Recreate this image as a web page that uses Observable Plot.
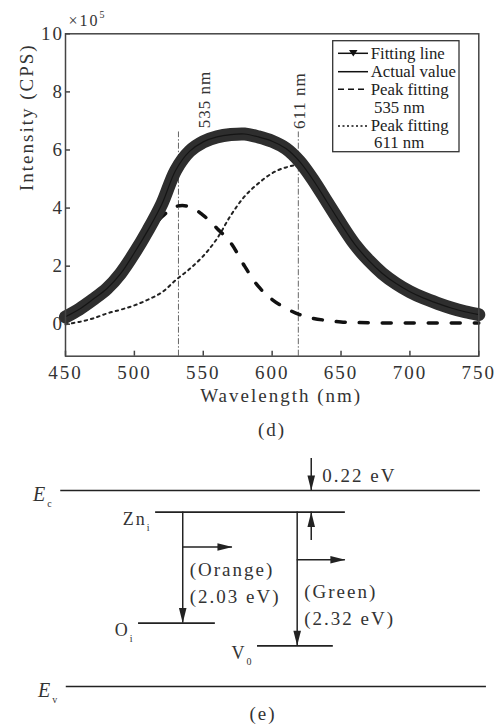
<!DOCTYPE html>
<html>
<head>
<meta charset="utf-8">
<script src="https://cdn.jsdelivr.net/npm/d3@7"></script>
<script src="https://cdn.jsdelivr.net/npm/@observablehq/plot@0.6"></script>
<style>
  body { margin: 0; background: #fff; }
  #wrap { position: relative; width: 502px; height: 727px; overflow: hidden; font-family: "Liberation Serif", "Times New Roman", serif; color: #333; background: #fff; }
  #top, #bottom, #legend { position: absolute; left: 0; }
  #top { top: 0; }
  #legend { top: 0; pointer-events: none; }
  #bottom { top: 440px; }
  .cap { position: absolute; font-size: 19px; letter-spacing: 2px; transform: translate(-50%, -50%); white-space: nowrap; }
</style>
</head>
<body>
<div id="wrap">
  <div id="top"></div>
  <svg id="legend" width="502" height="440"></svg>
  <div id="bottom"></div>
  <div class="cap" style="left:272px; top:430px;">(d)</div>
  <div class="cap" style="left:263px; top:714px;">(e)</div>
</div>
<script>
// ---------- (d) spectrum data ----------
const wavelength = [450,460,470,480,490,500,510,520,530,540,550,560,570,580,590,600,610,620,630,640,650,660,670,680,690,700,710,720,730,740,750];
const fittingLine = [0.25,0.52,0.85,1.22,1.75,2.45,3.25,4.15,5.3,5.95,6.28,6.45,6.53,6.55,6.45,6.3,6.05,5.6,4.95,4.2,3.45,2.75,2.2,1.75,1.4,1.12,0.9,0.72,0.56,0.43,0.33];
const actualValue = [0.26,0.52,0.86,1.22,1.74,2.46,3.25,4.14,5.3,5.95,6.28,6.45,6.53,6.55,6.45,6.3,6.05,5.6,4.95,4.2,3.45,2.75,2.2,1.75,1.4,1.12,0.9,0.72,0.56,0.43,0.33];
const peak535 = [0.2,0.45,0.8,1.2,1.72,2.4,3.1,3.7,4.05,4.05,3.75,3.3,2.8,2.0,1.3,0.85,0.55,0.33,0.2,0.13,0.08,0.06,0.05,0.04,0.04,0.04,0.04,0.04,0.04,0.04,0.04];
const peak611 = [0.0,0.08,0.2,0.37,0.5,0.65,0.85,1.1,1.52,1.9,2.35,2.95,3.75,4.4,4.85,5.2,5.4,5.45,4.85,4.1,3.35,2.65,2.1,1.65,1.32,1.05,0.84,0.66,0.51,0.39,0.29];
const xTicks = [450,500,550,600,650,700,750];
const yTicks = [0,2,4,6,8,10];
const peakLines = [532, 619];
const peakLineTop = 6.62;
const peakLabels = ["535 nm", "611 nm"];
const legendLabels = ["Fitting line", "Actual value", "Peak fitting", "535 nm", "Peak fitting", "611 nm"];

// ---------- (e) energy diagram data ----------
const levelLabels = ["E_c", "E_v", "Zn_i", "O_i", "V_0"];
const levelEnergy = [3.37, 0, 3.0, 1.09, 0.70];
const levelStart = [12, 13.1, 30.9, 27.5, 51.2];
const levelEnd = [95.6, 96.8, 68.7, 42.8, 66.3];
const transitionX = [36.3, 59.1];
const transitionFrom = [3.0, 3.0];
const transitionTo = [1.09, 0.70];
const transitionLabels = ["(Orange)\n(2.03 eV)", "(Green)\n(2.32 eV)"];
const photonY = [2.4, 2.18];
const photonEnd = [46.2, 68.7];
const gapX = 61.9;
const gapArrowFrom = [3.92, 2.51];
const gapArrowTo = [3.37, 3.0];
const gapLabel = "0.22 eV";

const rows = wavelength.map((w, i) => ({w, fit: fittingLine[i], act: actualValue[i], p1: peak535[i], p2: peak611[i]}));

function scripts(svg) {
  d3.select(svg).selectAll("text").each(function () {
    if (this.querySelector("tspan")) return;
    const m = this.textContent.match(/^(.*?)([_^])(.+)$/);
    if (!m) return;
    this.textContent = m[1];
    const sp = document.createElementNS("http://www.w3.org/2000/svg", "tspan");
    sp.textContent = m[3];
    sp.setAttribute("font-size", m[2] === "_" ? 10 : 10);
    sp.setAttribute("font-style", "normal");
    sp.setAttribute("dy", m[2] === "_" ? 6 : -8);
    this.appendChild(sp);
  });
}

// ---------- top chart ----------
const topPlot = Plot.plot({
  width: 502, height: 440,
  marginLeft: 65, marginRight: 23.7, marginTop: 33.3, marginBottom: 84.3,
  x: {domain: [450, 750]},
  y: {domain: [-1.1, 10]},
  style: "font-family: 'Liberation Serif', 'Times New Roman', serif; font-size: 19px; letter-spacing: 2px; color: #333; background: transparent; overflow: visible;",
  marks: [
    Plot.ruleX(peakLines, {x: d => d, y1: -1.1, y2: peakLineTop, stroke: "#666", strokeWidth: 1, strokeDasharray: "6,2,1.5,2"}),
    Plot.line(rows, {x: "w", y: "p2", stroke: "#222", strokeWidth: 2, strokeDasharray: "2.5,4", curve: "catmull-rom"}),
    Plot.line(rows, {x: "w", y: "p1", stroke: "#111", strokeWidth: 3.5, strokeDasharray: "9,14", curve: "catmull-rom"}),
    Plot.line(rows, {x: "w", y: "fit", stroke: "#2e2e2e", strokeWidth: 13, curve: "catmull-rom"}),
    Plot.line(rows, {x: "w", y: "act", stroke: "#151515", strokeWidth: 1.2, curve: "catmull-rom"}),
    Plot.frame({stroke: "#444", strokeWidth: 1.5}),
    Plot.axisX({ticks: xTicks, tickSize: 0, tickPadding: 9, label: null, fill: "#333"}),
    Plot.axisX({ticks: xTicks, tickSize: 5, dy: -5, tickFormat: () => "", label: null, stroke: "#444", strokeWidth: 1.5}),
    Plot.axisY({ticks: yTicks, tickSize: 0, tickPadding: 1.5, label: null, fill: "#333"}),
    Plot.axisY({ticks: yTicks, tickSize: 5, dx: 5, tickFormat: () => "", label: null, stroke: "#444", strokeWidth: 1.5}),
    Plot.text(["Wavelength (nm)"], {frameAnchor: "bottom", lineAnchor: "middle", dy: 39.5, dx: 9, fill: "#333"}),
    Plot.text(["Intensity (CPS)"], {frameAnchor: "left", lineAnchor: "middle", rotate: -90, dx: -39, dy: -4, fill: "#333"}),
    Plot.text(["×10^5"], {frameAnchor: "top-left", textAnchor: "start", lineAnchor: "middle", dx: 3, dy: -13, fontSize: 16, fill: "#333"}),
    Plot.text([peakLabels[0]], {x: [peakLines[0]], y: [peakLineTop + 0.13], rotate: -90, textAnchor: "start", lineAnchor: "middle", dx: 26, fontSize: 17, fill: "#333"}),
    Plot.text([peakLabels[1]], {x: [peakLines[1]], y: [peakLineTop + 0.1], rotate: -90, textAnchor: "start", lineAnchor: "middle", dx: 1.5, fontSize: 17, fill: "#333"})
  ]
});
scripts(topPlot);
d3.select(topPlot).selectAll("text").filter(function () { return /^\d+ nm$/.test(this.textContent); }).style("letter-spacing", "1px");
document.getElementById("top").appendChild(topPlot);

// ---------- legend ----------
const lg = d3.select("#legend").style("font-family", "'Liberation Serif', 'Times New Roman', serif");
lg.append("rect").attr("x", 332.7).attr("y", 40.7).attr("width", 126.3).attr("height", 111)
  .attr("fill", "#fff").attr("stroke", "#333").attr("stroke-width", 1.3);
const sx1 = 338, sx2 = 368;
lg.append("line").attr("x1", sx1).attr("x2", sx2).attr("y1", 53.3).attr("y2", 53.3).attr("stroke", "#111").attr("stroke-width", 1.5);
lg.append("path").attr("d", "M349,50 L357.5,50 L353.3,56.5 Z").attr("fill", "#111");
lg.append("line").attr("x1", sx1).attr("x2", sx2).attr("y1", 71.7).attr("y2", 71.7).attr("stroke", "#111").attr("stroke-width", 1.5);
lg.append("line").attr("x1", sx1).attr("x2", sx2 - 2).attr("y1", 89.3).attr("y2", 89.3).attr("stroke", "#111").attr("stroke-width", 1.5).attr("stroke-dasharray", "6,4");
lg.append("line").attr("x1", sx1).attr("x2", sx2).attr("y1", 126).attr("y2", 126).attr("stroke", "#111").attr("stroke-width", 1.5).attr("stroke-dasharray", "2,2.5");
const lgX = [370.7, 370.7, 370.7, 374, 370.7, 374];
const lgY = [58.5, 76.5, 94.5, 112.5, 130.5, 148.3];
legendLabels.forEach((t, i) => {
  lg.append("text").attr("x", lgX[i]).attr("y", lgY[i]).attr("font-size", 16.8).attr("fill", "#222").text(t);
});

// ---------- bottom diagram ----------
const levels = levelLabels.map((l, i) => ({l, e: levelEnergy[i], x1: levelStart[i], x2: levelEnd[i]}));
const bands = levels.slice(0, 2), defects = levels.slice(2);
const trans = transitionX.map((x, i) => ({x, from: transitionFrom[i], to: transitionTo[i], label: transitionLabels[i], py: photonY[i], pend: photonEnd[i]}));
const gaps = gapArrowFrom.map((f, i) => ({x: gapX, from: f, to: gapArrowTo[i]}));
const arrowHead = {draw(ctx) { ctx.moveTo(0, 0); ctx.lineTo(-3.8, 15); ctx.lineTo(3.8, 15); ctx.closePath(); }};

const bottomPlot = Plot.plot({
  width: 502, height: 287, margin: 0,
  x: {domain: [0, 100], axis: null},
  y: {domain: [-0.705, 4.23], axis: null},
  style: "font-family: 'Liberation Serif', 'Times New Roman', serif; font-size: 19px; letter-spacing: 2px; color: #333; background: transparent; overflow: visible;",
  marks: [
    Plot.ruleY(levels, {y: "e", x1: "x1", x2: "x2", stroke: "#222", strokeWidth: 1.7}),
    Plot.ruleX(trans, {x: "x", y1: "from", y2: "to", stroke: "#222", strokeWidth: 1.5}),
    Plot.dot(trans, {x: "x", y: "to", symbol: arrowHead, rotate: 180, r: 5, fill: "#222", stroke: "none"}),
    Plot.ruleY(trans, {y: "py", x1: "x", x2: "pend", stroke: "#222", strokeWidth: 1.5}),
    Plot.dot(trans, {x: "pend", y: "py", symbol: arrowHead, rotate: 90, r: 5, fill: "#222", stroke: "none"}),
    Plot.ruleX(gaps, {x: "x", y1: "from", y2: "to", stroke: "#222", strokeWidth: 1.5}),
    Plot.dot(gaps, {x: "x", y: "to", symbol: arrowHead, rotate: d => d.from > d.to ? 180 : 0, r: 5, fill: "#222", stroke: "none"}),
    Plot.text(trans, {x: "x", y: "to", text: "label", textAnchor: "start", lineAnchor: "middle", lineHeight: 1.42, dx: 7, dy: -42.5, fill: "#333"}),
    Plot.text([gapLabel], {x: [gapX], y: [(gapArrowFrom[0] + gapArrowTo[0]) / 2], textAnchor: "start", lineAnchor: "middle", dx: 11, dy: 1, fill: "#333"}),
    Plot.text(bands, {x: "x1", y: "e", text: "l", textAnchor: "end", lineAnchor: "middle", dx: -7, dy: 4, fontStyle: "italic", fontSize: 20, fill: "#333"}),
    Plot.text(defects, {x: "x1", y: "e", text: "l", textAnchor: "end", lineAnchor: "middle", dx: -4, dy: 7, fontSize: 18, fill: "#333"})
  ]
});
scripts(bottomPlot);
document.getElementById("bottom").appendChild(bottomPlot);
</script>
</body>
</html>
